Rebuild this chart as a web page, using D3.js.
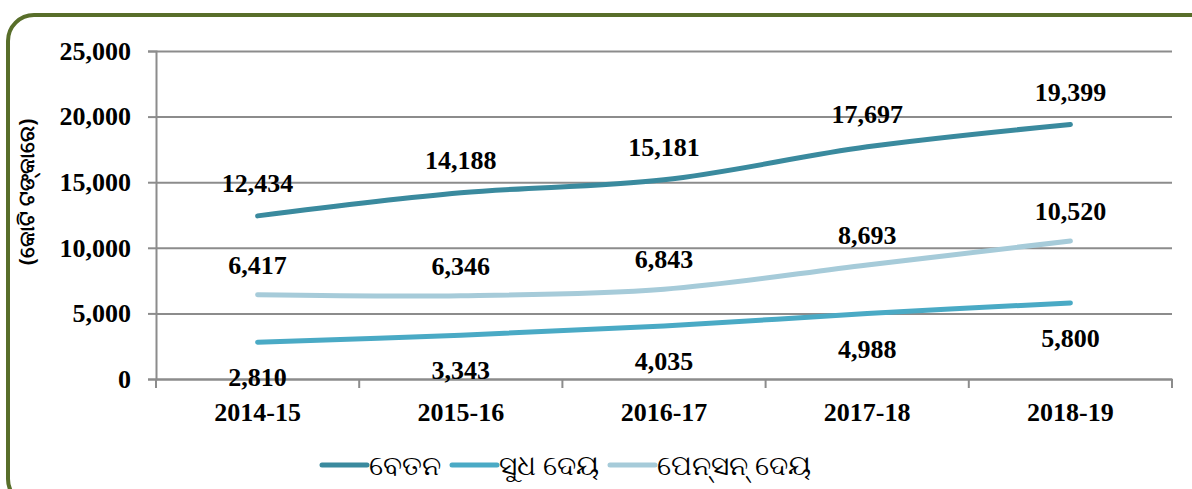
<!DOCTYPE html>
<html>
<head>
<meta charset="utf-8">
<script src="https://cdn.jsdelivr.net/npm/d3@7"></script>
<style>
  body { margin: 0; background: #fff; }
  svg { display: block; }
</style>
</head>
<body>
<div id="chart"></div>
<script>
var years = ['2014-15', '2015-16', '2016-17', '2017-18', '2018-19']
var salary = [12434, 14188, 15181, 17697, 19399]
var interest = [2810, 3343, 4035, 4988, 5800]
var pension = [6417, 6346, 6843, 8693, 10520]
var seriesNames = ['ବେତନ', 'ସୁଧ ଦେୟ', 'ପେନ୍‌ସନ୍ ଦେୟ']
var yTicks = [0, 5000, 10000, 15000, 20000, 25000]
var yTitle = '(କୋଟି ଟଙ୍କାରେ)'

var W = 1192, H = 489
var margin = {top: 51, right: 20, bottom: 110, left: 156},
    width = 1172 - margin.left,
    height = 379 - margin.top

var series = [
  {name: seriesNames[0], values: salary, color: '#3a8a9e', dy: -33},
  {name: seriesNames[1], values: interest, color: '#4aaac5', dy: 35},
  {name: seriesNames[2], values: pension, color: '#a6cbd9', dy: -30}
]

var x = d3.scaleBand().domain(years).range([0, width]),
    y = d3.scaleLinear().domain([0, 25000]).range([height, 0])

var svg = d3.select('#chart').append('svg')
  .attr('width', W).attr('height', H)

// rounded frame
svg.append('rect')
  .attr('x', 8).attr('y', 15)
  .attr('width', 1210).attr('height', 490)
  .attr('rx', 26)
  .attr('fill', 'none')
  .attr('stroke', '#586e2a')
  .attr('stroke-width', 4)

var g = svg.append('g')
  .attr('transform', `translate(${[margin.left, margin.top]})`)

var serif = '"Liberation Serif", "Times New Roman", serif'

// gridlines + y axis
var yAxis = d3.axisLeft(y).tickValues(yTicks).tickSize(8)
  .tickFormat(d3.format(','))
g.append('g')
  .call(d3.axisRight(y).tickValues(yTicks).tickSize(width).tickFormat(''))
  .call(s => s.select('.domain').remove())
  .selectAll('line').attr('stroke', '#8c8c8c').attr('stroke-width', 2)

var ya = g.append('g').call(yAxis)
ya.select('.domain').attr('stroke', '#8c8c8c').attr('stroke-width', 2)
ya.selectAll('.tick line').attr('stroke', '#8c8c8c').attr('stroke-width', 2)
ya.selectAll('.tick text')
  .attr('x', -25)
  .attr('font-family', serif).attr('font-weight', 'bold')
  .attr('font-size', 26).attr('fill', '#000')

// x axis
var xa = g.append('g')
  .attr('transform', `translate(0,${height})`)
  .call(d3.axisBottom(x).tickSize(0))
xa.select('.domain').attr('stroke', '#8c8c8c').attr('stroke-width', 2)
xa.selectAll('.tick text')
  .attr('y', 42).attr('dy', 0)
  .attr('font-family', serif).attr('font-weight', 'bold')
  .attr('font-size', 26).attr('fill', '#000')
// category separators
g.append('g').selectAll('line')
  .data(years.map(d => x(d)).concat([width]))
  .join('line')
  .attr('x1', d => d).attr('x2', d => d)
  .attr('y1', height).attr('y2', height + 9)
  .attr('stroke', '#8c8c8c').attr('stroke-width', 2)

var cx = d => x(d) + x.bandwidth() / 2

var line = d3.line()
  .x((d, i) => cx(years[i]))
  .y(d => y(d))
  .curve(d3.curveCatmullRom.alpha(0.5))

series.forEach(function(s){
  g.append('path')
    .datum(s.values)
    .attr('d', line)
    .attr('fill', 'none')
    .attr('stroke', s.color)
    .attr('stroke-width', 5)
    .attr('stroke-linecap', 'round')
})

series.forEach(function(s){
  g.append('g').selectAll('text')
    .data(s.values)
    .join('text')
    .attr('x', (d, i) => cx(years[i]))
    .attr('y', d => y(d) + s.dy)
    .attr('dy', '0.35em')
    .attr('text-anchor', 'middle')
    .attr('font-family', serif).attr('font-weight', 'bold')
    .attr('font-size', 26).attr('fill', '#000')
    .text(d3.format(','))
})

// y title
svg.append('text')
  .attr('transform', 'translate(27,192) rotate(-90)')
  .attr('text-anchor', 'middle')
  .attr('dy', '0.35em')
  .attr('font-family', '"Noto Sans", sans-serif')
  .attr('font-weight', 'bold')
  .attr('font-size', 21)
  .text(yTitle)

// legend
var legendX = [322, 452, 610]
var lg = svg.append('g').attr('transform', 'translate(0,465)')
series.forEach(function(s, i){
  lg.append('line')
    .attr('x1', legendX[i]).attr('x2', legendX[i] + 45)
    .attr('y1', 0).attr('y2', 0)
    .attr('stroke', s.color).attr('stroke-width', 5)
    .attr('stroke-linecap', 'round')
  lg.append('text')
    .attr('x', legendX[i] + 47).attr('y', 0).attr('dy', '0.35em')
    .attr('font-family', '"Noto Sans", sans-serif')
    .attr('font-size', 28)
    .text(s.name)
})
</script>
</body>
</html>
